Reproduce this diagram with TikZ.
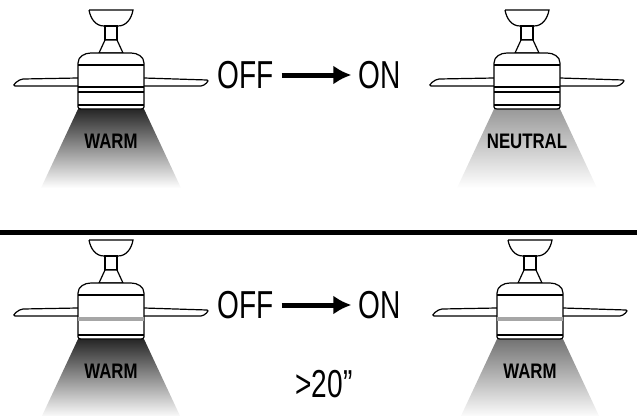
\documentclass[tikz,border=0pt]{standalone}
\usepackage{fontspec}
\setmainfont{Liberation Sans}[FakeStretch=0.8]
\newfontfamily\thinfont{Liberation Sans}[FakeStretch=0.72]
\usetikzlibrary{arrows.meta}
\newcommand\ceilfan[5]{%
  \begin{scope}[shift={(#1,#2)}]
    % light cone
    \shade[top color=#3, bottom color=white] (-33,99) -- (33,99) -- (70,178) -- (-70,178) -- cycle;
    \node[font=\bfseries\fontsize{21}{21}\selectfont] at (0,131) {#5};
    % canopy, stem
    \draw[fan line] (-22,0) -- (22,0) to[out=-100,in=0] (7,16) -- (-7,16) to[out=180,in=-80] (-22,0);
    \draw[fan line] (-6,16) rectangle (6,30);
    \draw[fan line] (-6,30) -- (6,30) -- (12,43) -- (-12,43) -- cycle;
    % blades
    \draw[fan line] (-33,68) -- (-88,69) to[out=180,in=180] (-96,76) -- (-33,76);
    \draw[fan line] (33,68) -- (96,70) to[out=0,in=0] (90,76) -- (33,76);
    % body
    \draw[fan line] (-33,97) -- (-33,53) to[out=90,in=180] (-20,43) -- (20,43) to[out=0,in=90] (33,53) -- (33,97);
    \draw[fan line] (-33,55) -- (33,55);
    \ifnum#4=0
      \draw[fan line] (-33,77) -- (33,77) (-33,82) -- (33,82);
    \else
      \fill[gray!70] (-33,77) rectangle (33,81);
    \fi
    \draw[fan line] (-33,95) -- (33,95);
    \draw[fan line] (-33,97) to[out=-90,in=180] (-30,99) -- (30,99) to[out=0,in=-90] (33,97);
  \end{scope}}
\begin{document}
\begin{tikzpicture}[x=1pt,y=-1pt,
  fan line/.style={line width=1.2pt, fill=white},
  big text/.style={font=\thinfont\fontsize{39}{39}\selectfont},
  onoff/.style={-{Latex[length=18pt,width=19pt]}, line width=5pt, shorten <=4pt, shorten >=4pt}]
  \useasboundingbox (0,0) rectangle (637,415);
  % fans
  \ceilfan{111}{10}{black!85}{0}{WARM}
  \ceilfan{527}{10}{black!40}{0}{NEUTRAL}
  \ceilfan{111}{240}{black!85}{1}{WARM}
  \ceilfan{530}{240}{black!55}{1}{WARM}
  % divider
  \draw[line width=5pt] (0,232) -- (637,232);
  % texts
  \node[big text] (off1) at (246,75) {OFF};
  \node[big text] (on1) at (380,75) {ON};
  \draw[onoff] (off1) -- (on1);
  \node[big text] (off2) at (246,305) {OFF};
  \node[big text] (on2) at (380,305) {ON};
  \draw[onoff] (off2) -- (on2);
  \node[big text] (gap) at (324,384) {>20”};
\end{tikzpicture}
\end{document}
